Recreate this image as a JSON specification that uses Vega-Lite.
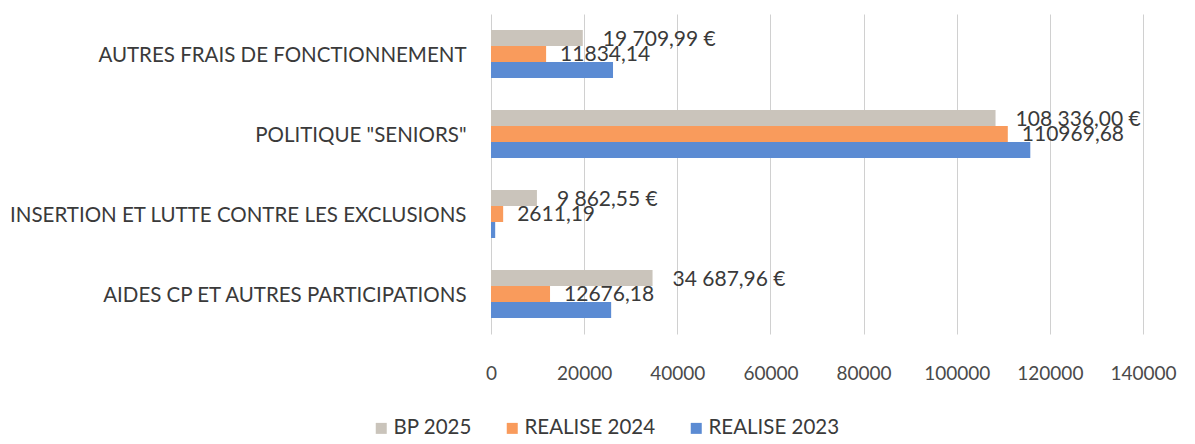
{
  "$schema": "https://vega.github.io/schema/vega-lite/v6.json",
  "autosize": {"type": "none"},
  "width": 652,
  "height": 320,
  "padding": {"left": 491, "top": 14, "right": 52, "bottom": 110},
  "background": "white",
  "config": {
    "view": {"stroke": null},
    "font": "Lato",
    "text": {"font": "Lato"}
  },
  "data": {
    "values": [
      {"category": "AUTRES FRAIS DE FONCTIONNEMENT", "series": "BP 2025", "value": 19709.99, "label": "19 709,99 €"},
      {"category": "AUTRES FRAIS DE FONCTIONNEMENT", "series": "REALISE 2024", "value": 11834.14, "label": "11834,14"},
      {"category": "AUTRES FRAIS DE FONCTIONNEMENT", "series": "REALISE 2023", "value": 26200, "label": ""},
      {"category": "POLITIQUE \"SENIORS\"", "series": "BP 2025", "value": 108336.00, "label": "108 336,00 €"},
      {"category": "POLITIQUE \"SENIORS\"", "series": "REALISE 2024", "value": 110969.68, "label": "110969,68"},
      {"category": "POLITIQUE \"SENIORS\"", "series": "REALISE 2023", "value": 115800, "label": ""},
      {"category": "INSERTION ET LUTTE CONTRE LES EXCLUSIONS", "series": "BP 2025", "value": 9862.55, "label": "9 862,55 €"},
      {"category": "INSERTION ET LUTTE CONTRE LES EXCLUSIONS", "series": "REALISE 2024", "value": 2611.19, "label": "2611,19"},
      {"category": "INSERTION ET LUTTE CONTRE LES EXCLUSIONS", "series": "REALISE 2023", "value": 900, "label": ""},
      {"category": "AIDES CP ET AUTRES PARTICIPATIONS", "series": "BP 2025", "value": 34687.96, "label": "34 687,96 €"},
      {"category": "AIDES CP ET AUTRES PARTICIPATIONS", "series": "REALISE 2024", "value": 12676.18, "label": "12676,18"},
      {"category": "AIDES CP ET AUTRES PARTICIPATIONS", "series": "REALISE 2023", "value": 25800, "label": ""}
    ]
  },
  "encoding": {
    "y": {
      "field": "category", "type": "nominal",
      "sort": ["AUTRES FRAIS DE FONCTIONNEMENT", "POLITIQUE \"SENIORS\"", "INSERTION ET LUTTE CONTRE LES EXCLUSIONS", "AIDES CP ET AUTRES PARTICIPATIONS"],
      "scale": {"paddingInner": 0.4, "paddingOuter": 0.2},
      "axis": {"title": null, "ticks": false, "domain": false, "labelPadding": 25, "labelFontSize": 20.5, "labelColor": "#3a3a3a", "labelFont": "Lato", "labelLimit": 600, "labelOffset": 2}
    },
    "x": {
      "field": "value", "type": "quantitative",
      "scale": {"domain": [0, 140000], "nice": false},
      "axis": {"title": null, "values": [0, 20000, 40000, 60000, 80000, 100000, 120000, 140000], "format": "d", "ticks": false, "domain": false, "labelPadding": 30, "labelFontSize": 19, "labelColor": "#4a4a4a", "labelFont": "Lato", "gridColor": "#d0d0d0", "gridWidth": 1, "labelFlush": false}
    },
    "yOffset": {"field": "series", "type": "nominal", "sort": ["BP 2025", "REALISE 2024", "REALISE 2023"]}
  },
  "layer": [
    {
      "mark": {"type": "bar"},
      "encoding": {
        "color": {
          "field": "series", "type": "nominal",
          "sort": ["BP 2025", "REALISE 2024", "REALISE 2023"],
          "scale": {"domain": ["BP 2025", "REALISE 2024", "REALISE 2023"], "range": ["#cac4bb", "#f99b5c", "#5b8bd3"]},
          "legend": {
            "title": null, "orient": "none", "direction": "horizontal",
            "legendX": -120, "legendY": 404,
            "symbolType": "square", "symbolSize": 121, "symbolStrokeWidth": 0,
            "labelFontSize": 20.5, "labelColor": "#3a3a3a", "labelFont": "Lato",
            "columnPadding": 30, "symbolOffset": 0, "labelOffset": 2
          }
        }
      }
    },
    {
      "transform": [{"filter": "datum.series === 'BP 2025'"}],
      "mark": {"type": "text", "align": "left", "baseline": "middle", "dx": 20, "dy": 2, "fontSize": 21, "color": "#3a3a3a", "font": "Lato"},
      "encoding": {"text": {"field": "label"}}
    },
    {
      "transform": [{"filter": "datum.series === 'REALISE 2024'"}],
      "mark": {"type": "text", "align": "left", "baseline": "middle", "dx": 14, "dy": 1, "fontSize": 21, "color": "#3a3a3a", "font": "Lato"},
      "encoding": {"text": {"field": "label"}}
    }
  ]
}
